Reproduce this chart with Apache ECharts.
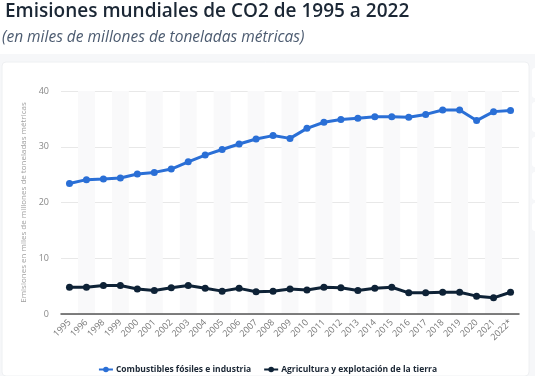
<!DOCTYPE html>
<html>
<head>
<meta charset="utf-8">
<script src="https://cdn.jsdelivr.net/npm/echarts@6/dist/echarts.min.js"></script>
<style>
  html, body { margin: 0; padding: 0; background: #fff; }
  #chart { width: 535px; height: 376px; }
</style>
</head>
<body>
<div id="chart"></div>
<script>
// años (falta 1997 en el original)
const years = ['1995', '1996', '1998', '1999', '2000', '2001', '2002', '2003', '2004', '2005',
  '2006', '2007', '2008', '2009', '2010', '2011', '2012', '2013', '2014', '2015',
  '2016', '2017', '2018', '2019', '2020', '2021', '2022*'];

const fosiles = [23.4, 24.1, 24.2, 24.4, 25.1, 25.4, 26.0, 27.3, 28.5, 29.5,
  30.5, 31.4, 32.0, 31.5, 33.3, 34.4, 34.9, 35.1, 35.4, 35.4,
  35.3, 35.8, 36.6, 36.6, 34.7, 36.3, 36.5];

const agricultura = [4.8, 4.8, 5.1, 5.1, 4.5, 4.2, 4.7, 5.1, 4.6, 4.1,
  4.6, 4.0, 4.1, 4.5, 4.3, 4.8, 4.7, 4.2, 4.6, 4.8,
  3.8, 3.8, 3.9, 3.9, 3.2, 2.9, 3.9];

const yTicks = [0, 10, 20, 30, 40];

const myChart = echarts.init(document.getElementById('chart'));

const option = {
  backgroundColor: '#fff',
  animation: false,
  textStyle: { fontFamily: '"Open Sans", sans-serif' },
  graphic: [
    // fondo gris de la página y tarjeta blanca
    { type: 'rect', z: -10, shape: { x: 0, y: 54, width: 535, height: 322 }, style: { fill: '#f6f7f9' } },
    { type: 'rect', z: -9, shape: { x: 2, y: 62, width: 527, height: 314, r: 4 },
      style: { fill: '#fff', stroke: '#eef0f2', lineWidth: 1 } },
    // botones laterales cortados
    { type: 'rect', z: -9, shape: { x: 532, y: 68, width: 10, height: 30, r: 3 }, style: { fill: '#fff' } },
    { type: 'rect', z: -9, shape: { x: 532, y: 102, width: 10, height: 30, r: 3 }, style: { fill: '#fff' } },
    { type: 'rect', z: -9, shape: { x: 532, y: 137, width: 10, height: 30, r: 3 }, style: { fill: '#fff' } },
    { type: 'rect', z: -9, shape: { x: 532, y: 172, width: 10, height: 28, r: 3 }, style: { fill: '#fff' } },
    { type: 'rect', z: -9, shape: { x: 532, y: 203, width: 10, height: 28, r: 3 }, style: { fill: '#fff' } },
    {
      type: 'text', left: 5, top: 2,
      style: { text: 'Emisiones mundiales de CO2 de 1995 a 2022', fill: '#1b2735',
        font: '600 19px "Open Sans", sans-serif' }
    },
    {
      type: 'text', left: 2, top: 30,
      style: { text: '(en miles de millones de toneladas métricas)', fill: '#4c5b70',
        font: 'italic 15.5px "Open Sans", sans-serif' }
    }
  ],
  grid: { left: 61, right: 16, top: 91, bottom: 62 },
  legend: {
    bottom: -3,
    left: 'center',
    itemWidth: 14,
    itemHeight: 7,
    itemGap: 12,
    textStyle: { color: '#1b2735', fontSize: 8.5, fontWeight: 'bold', padding: [0, 0, 0, -2] },
    data: ['Combustibles fósiles e industria', 'Agricultura y explotación de la tierra']
  },
  xAxis: {
    type: 'category',
    data: years,
    boundaryGap: true,
    axisTick: { show: false },
    axisLine: { lineStyle: { color: '#555', width: 1.5 } },
    axisLabel: { rotate: 45, color: '#777', fontSize: 9, interval: 0, margin: 7 },
    splitArea: { show: true, areaStyle: { color: ['rgba(255,255,255,0)', '#f9f9fa'] } }
  },
  yAxis: {
    type: 'value',
    min: yTicks[0],
    max: yTicks[yTicks.length - 1],
    interval: 10,
    name: 'Emisiones en miles de millones de toneladas métricas',
    nameLocation: 'middle',
    nameGap: 27,
    nameTextStyle: { color: '#a0a0a0', fontSize: 8 },
    axisLine: { show: false },
    axisTick: { show: false },
    axisLabel: { color: '#888', fontSize: 9, margin: 12 },
    splitLine: { lineStyle: { color: '#e8e8e8' } }
  },
  series: [
    {
      name: 'Combustibles fósiles e industria',
      type: 'line',
      data: fosiles,
      color: '#2a6fd6',
      symbol: 'circle',
      symbolSize: 7,
      lineStyle: { width: 3 }
    },
    {
      name: 'Agricultura y explotación de la tierra',
      type: 'line',
      data: agricultura,
      color: '#0e2236',
      symbol: 'circle',
      symbolSize: 7,
      lineStyle: { width: 3 }
    }
  ]
};

myChart.setOption(option);
</script>
</body>
</html>
